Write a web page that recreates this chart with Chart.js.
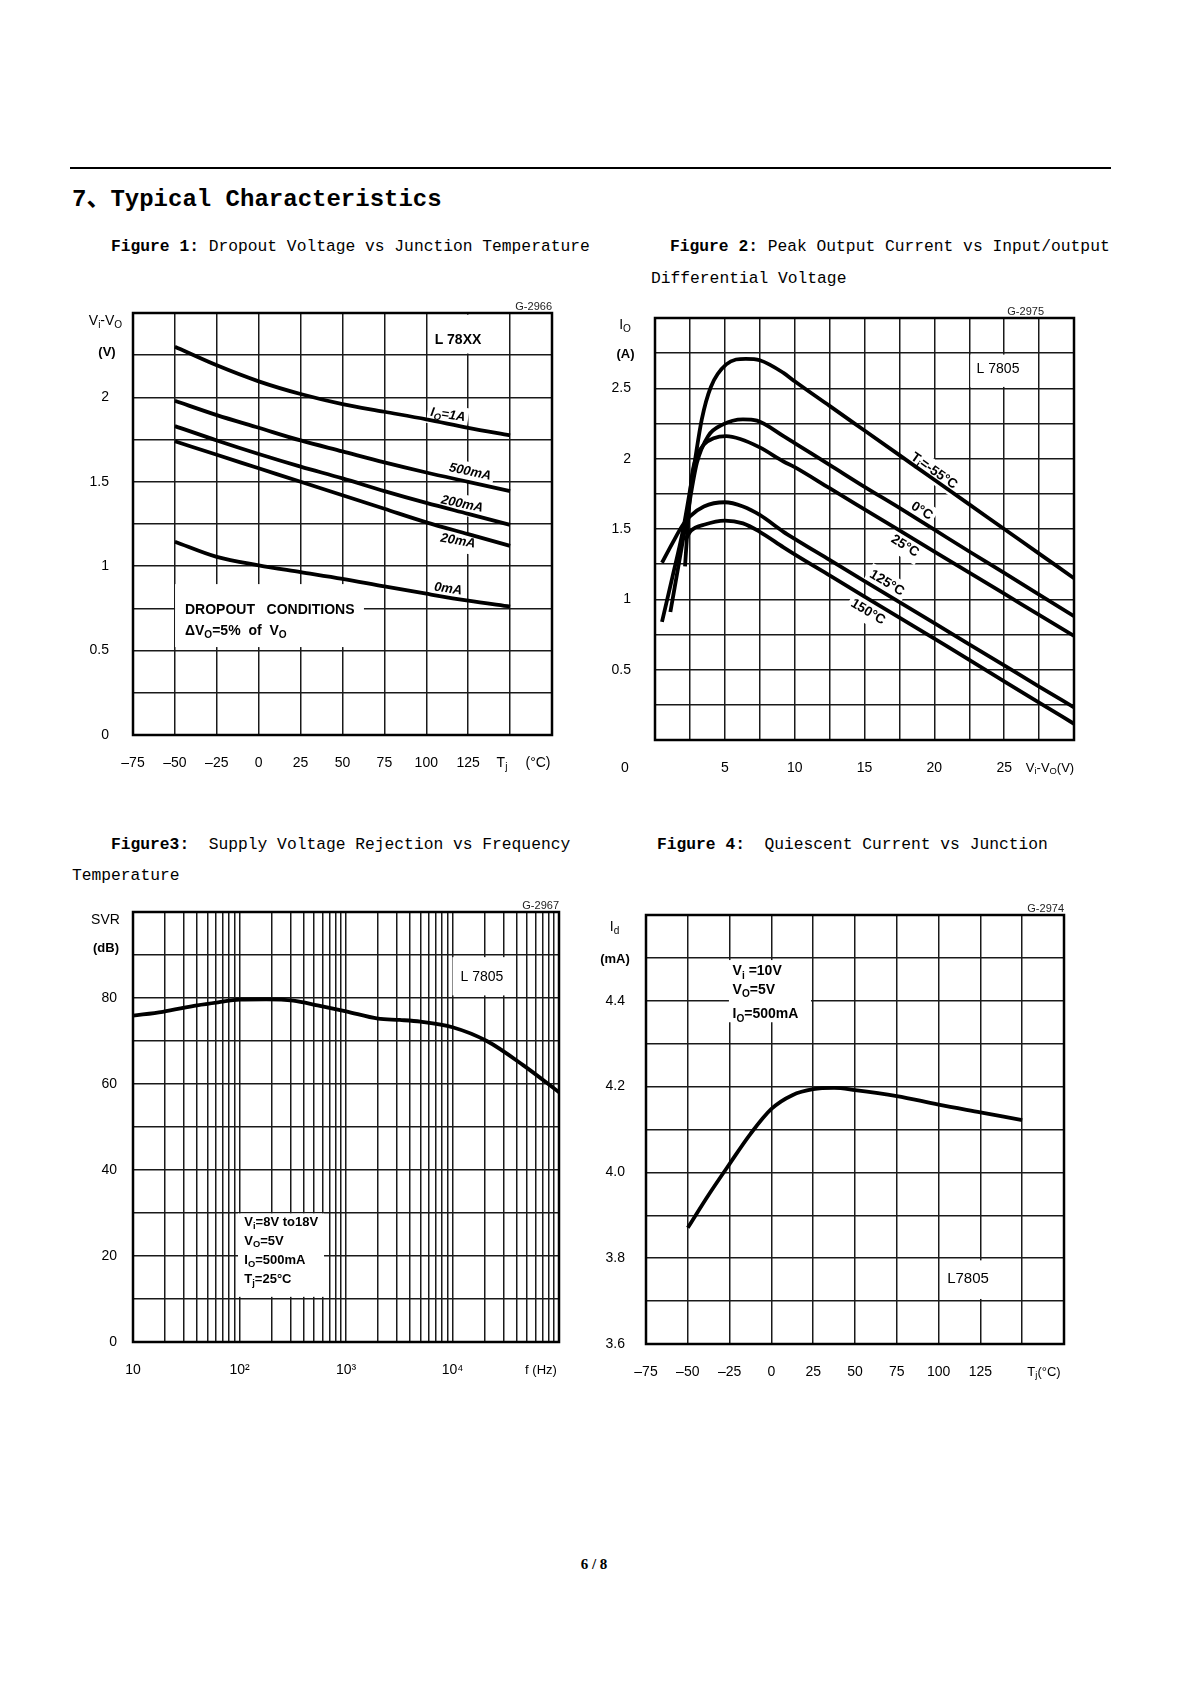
<!DOCTYPE html>
<html><head><meta charset="utf-8">
<script src="https://cdn.jsdelivr.net/npm/chart.js@4.4.1/dist/chart.umd.min.js"></script>
<style>
html,body{margin:0;padding:0;background:#fff;}
#page{position:relative;width:1200px;height:1697px;background:#fff;overflow:hidden;}
.t{position:absolute;white-space:pre;color:#000;font-family:"Liberation Mono","Noto Sans CJK SC",monospace;line-height:1;}
canvas{position:absolute;}
</style></head><body><div id="page">
<div style="position:absolute;left:70px;top:167px;width:1041px;height:2px;background:#000"></div>
<div class="t" style="left:72px;top:188px;font-size:24px;font-weight:bold">7、Typical Characteristics</div>
<div class="t" style="left:111px;top:239px;font-size:16.3px"><b>Figure 1:</b> Dropout Voltage vs Junction Temperature</div>
<div class="t" style="left:670px;top:239px;font-size:16.3px"><b>Figure 2:</b> Peak Output Current vs Input/output</div>
<div class="t" style="left:651px;top:271px;font-size:16.3px">Differential Voltage</div>
<div class="t" style="left:111px;top:837px;font-size:16.3px"><b>Figure3:</b>  Supply Voltage Rejection vs Frequency</div>
<div class="t" style="left:72px;top:868px;font-size:16.3px">Temperature</div>
<div class="t" style="left:657px;top:837px;font-size:16.3px"><b>Figure 4:</b>  Quiescent Current vs Junction</div>
<div class="t" style="left:550px;top:1557px;width:88px;text-align:center;font-size:15px;font-weight:bold;font-family:'Liberation Serif',serif">6 / 8</div>
</div>
<script>
// ---------------- DATA ----------------
// Figure 1: dropout voltage vs junction temperature
const tjTemps = [-50, -25, 0, 25, 50, 75, 100, 125, 150];
const drop1A  = [2.30, 2.19, 2.095, 2.02, 1.96, 1.915, 1.87, 1.82, 1.775];
const drop500 = [1.98, 1.895, 1.82, 1.745, 1.68, 1.615, 1.555, 1.50, 1.445];
const drop200 = [1.83, 1.745, 1.665, 1.59, 1.52, 1.445, 1.375, 1.31, 1.245];
const drop20  = [1.74, 1.66, 1.58, 1.50, 1.42, 1.34, 1.26, 1.19, 1.12];
const drop0   = [1.145, 1.055, 1.005, 0.965, 0.925, 0.88, 0.837, 0.796, 0.76];
const fig1YLabels = [0, 0.5, 1, 1.5, 2];
const tempXLabels = [-75, -50, -25, 0, 25, 50, 75, 100, 125];

// Figure 2: peak output current vs Vi-Vo
const vM55 = [0.5, 1.25, 2.0, 2.75, 3.35, 4.0, 5.1, 6.5, 7.5, 9.2, 10, 12.5, 15, 17.5, 20, 22.5, 25, 27.5, 30];
const iM55 = [0.84, 1.16, 1.49, 1.92, 2.28, 2.51, 2.67, 2.71, 2.70, 2.61, 2.55, 2.375, 2.20, 2.025, 1.85, 1.675, 1.50, 1.325, 1.15];
const v0C  = [1.1, 1.7, 2.3, 3.0, 3.8, 4.8, 6.3, 7.3, 9.2, 10, 12.5, 15, 17.5, 20, 22.5, 25, 27.5, 30];
const i0C  = [0.91, 1.25, 1.59, 1.97, 2.16, 2.24, 2.28, 2.27, 2.16, 2.11, 1.956, 1.80, 1.65, 1.495, 1.34, 1.188, 1.034, 0.88];
const v25C = [2.15, 2.4, 2.65, 3.0, 3.5, 4.2, 5.1, 6.1, 7.5, 9.2, 10, 12.5, 15, 17.5, 20, 22.5, 25, 27.5, 30];
const i25C = [1.235, 1.6, 1.88, 2.02, 2.10, 2.145, 2.16, 2.14, 2.08, 1.98, 1.94, 1.79, 1.64, 1.49, 1.34, 1.19, 1.04, 0.89, 0.74];
const v125C = [0.5, 1.25, 2.0, 2.5, 3.5, 5.0, 6.3, 7.5, 9.2, 10, 12.5, 15, 17.5, 20, 22.5, 25, 27.5, 30];
const i125C = [1.26, 1.40, 1.53, 1.59, 1.66, 1.69, 1.66, 1.60, 1.48, 1.43, 1.28, 1.13, 0.98, 0.83, 0.68, 0.53, 0.38, 0.232];
const v150C = [2.15, 2.6, 3.5, 5.0, 6.3, 7.5, 9.2, 10, 12.5, 15, 17.5, 20, 22.5, 25, 27.5, 30];
const i150C = [1.42, 1.49, 1.53, 1.56, 1.54, 1.48, 1.37, 1.32, 1.17, 1.02, 0.87, 0.72, 0.57, 0.416, 0.266, 0.115];
const fig2XLabels = [5, 10, 15, 20, 25];
const fig2YLabels = [0.5, 1, 1.5, 2, 2.5];

// Figure 3: SVR vs frequency
const svrFreq = [10, 19, 40, 63, 100, 178, 320, 540, 1000, 2000, 3200, 5000, 10000, 21000, 46000, 100000];
const svrDb   = [75.9, 76.8, 78.3, 79.0, 79.6, 79.7, 79.4, 78.3, 76.9, 75.2, 74.9, 74.5, 73.2, 70.0, 64.4, 58.1];
const svrDecades = [10, 100, 1000, 10000];
const svrXLabels = {10: '10', 100: '10²', 1000: '10³', 10000: '10⁴'};
const fig3YLabels = [0, 20, 40, 60, 80];

// Figure 4: quiescent current vs junction temperature
const iqTemp = [-50, -37.5, -25, -12.5, 0, 12.5, 25, 37.5, 50, 75, 100, 125, 150];
const iqMa   = [3.871, 3.948, 4.02, 4.09, 4.148, 4.18, 4.194, 4.197, 4.192, 4.178, 4.158, 4.14, 4.122];
const fig4YLabels = ['3.6', '3.8', '4.0', '4.2', '4.4'];

// ---------------- DRAW HELPERS ----------------
const FAM = '"Liberation Sans", Arial, Helvetica, sans-serif';
const ANN = {};
function fontStr(size, bold, italic) { return (italic ? 'italic ' : '') + (bold ? 'bold ' : '') + size + 'px ' + FAM; }
function richWidth(ctx, parts, size, bold, italic) {
  let w = 0;
  for (const [t, s] of parts) { ctx.font = fontStr(s ? size * 0.72 : size, bold, italic); w += ctx.measureText(t).width; }
  return w;
}
function drawRich(ctx, parts, x, y, size, bold, italic, align) {
  const w = richWidth(ctx, parts, size, bold, italic);
  let cx = align === 'left' ? x : align === 'right' ? x - w : x - w / 2;
  ctx.textAlign = 'left'; ctx.textBaseline = 'middle';
  for (const [t, s] of parts) {
    ctx.font = fontStr(s ? size * 0.72 : size, bold, italic);
    ctx.fillText(t, cx, y + (s ? size * 0.3 : 0));
    cx += ctx.measureText(t).width;
  }
}
const annotPlugin = {
  id: 'annot',
  beforeDatasetsDraw(chart) {
    const a = ANN[chart.canvas.id]; if (!a) return;
    const ctx = chart.ctx, xs = chart.scales.x, ys = chart.scales.y;
    ctx.save();
    (a.boxes || []).forEach(b => {
      const x0 = xs.getPixelForValue(b.x0), x1 = xs.getPixelForValue(b.x1);
      const y0 = ys.getPixelForValue(b.y0), y1 = ys.getPixelForValue(b.y1);
      ctx.fillStyle = '#fff';
      ctx.fillRect(Math.min(x0, x1), Math.min(y0, y1), Math.abs(x1 - x0), Math.abs(y1 - y0));
    });
    (a.labels || []).forEach(l => {
      const px = xs.getPixelForValue(l.x), py = ys.getPixelForValue(l.y);
      const size = l.size || 13;
      ctx.save(); ctx.translate(px, py); ctx.rotate((l.rot || 0) * Math.PI / 180);
      if (l.bg) {
        const w = richWidth(ctx, l.parts, size, l.bold, l.italic);
        const x0 = l.align === 'left' ? -3 : -w / 2 - 3;
        ctx.fillStyle = '#fff'; ctx.fillRect(x0, -size * 0.75, w + 6, size * 1.6);
      }
      ctx.fillStyle = '#000';
      drawRich(ctx, l.parts, 0, 0, size, l.bold, l.italic, l.align || 'center');
      ctx.restore();
    });
    ctx.restore();
  },
  afterDraw(chart) {
    const a = ANN[chart.canvas.id]; const ctx = chart.ctx; const ca = chart.chartArea;
    ctx.save();
    ctx.strokeStyle = '#000'; ctx.lineWidth = 2.5;
    ctx.strokeRect(ca.left, ca.top, ca.right - ca.left, ca.bottom - ca.top);
    ctx.fillStyle = '#000';
    (a.units || []).forEach(u => {
      const x = (u.from === 'right' ? ca.right : ca.left) + u.dx;
      const y = (u.vfrom === 'bottom' ? ca.bottom : ca.top) + u.dy;
      drawRich(ctx, u.parts, x, y, u.size || 14, u.bold, false, 'center');
    });
    if (a.gid) {
      ctx.font = fontStr(11, false, false); ctx.textAlign = 'right'; ctx.textBaseline = 'bottom'; ctx.fillStyle = '#222';
      ctx.fillText(a.gid.text, ca.right + a.gid.dx, ca.top - 1);
    }
    ctx.restore();
  }
};
const page = document.getElementById('page');
const GRID = {color: '#1a1a1a', lineWidth: 1.5, drawTicks: false};
const TICKFONT = {family: FAM, size: 14};
function ds(xs, ys) {
  return {data: xs.map((x, i) => ({x: x, y: ys[i]})), borderColor: '#000', borderWidth: 3.8, pointRadius: 0,
          cubicInterpolationMode: 'monotone', fill: false};
}
function makeChart(id, plot, xScale, yScale, datasets, ann) {
  const M = {l: 80, t: 40, r: 40, b: 50};
  const c = document.createElement('canvas'); c.id = id;
  const w = plot.r - plot.l + M.l + M.r, h = plot.b - plot.t + M.t + M.b;
  c.width = w; c.height = h;
  c.style.left = (plot.l - M.l) + 'px'; c.style.top = (plot.t - M.t) + 'px';
  c.style.width = w + 'px'; c.style.height = h + 'px';
  page.appendChild(c);
  ANN[id] = ann;
  xScale.afterFit = s => { s.height = M.b; };
  yScale.afterFit = s => { s.width = M.l; };
  xScale.grid = GRID; yScale.grid = GRID;
  xScale.border = {display: false}; yScale.border = {display: false};
  new Chart(c, {
    type: 'line', data: {datasets},
    options: {responsive: false, animation: false, events: [], devicePixelRatio: 1,
      layout: {padding: {top: M.t, right: M.r, left: 0, bottom: 0}},
      plugins: {legend: {display: false}, tooltip: {enabled: false}},
      scales: {x: xScale, y: yScale}},
    plugins: [annotPlugin]
  });
}
const near = (v, arr) => arr.some(a => Math.abs(a - v) < 1e-6);
const tempLabel = v => { const r = Math.round(v); return r < 0 ? '–' + Math.abs(r) : String(r); };

// ---------------- FIGURE 1 ----------------
makeChart('fig1', {l: 133, t: 313, r: 552, b: 735},
  {type: 'linear', min: -75, max: 175, ticks: {stepSize: 25, autoSkip: false, maxRotation: 0, padding: 20, font: TICKFONT, color: '#000',
    callback: v => near(v, tempXLabels) ? tempLabel(v) : ''}},
  {type: 'linear', min: 0, max: 2.5, ticks: {stepSize: 0.25, autoSkip: false, padding: 24, font: TICKFONT, color: '#000',
    callback: v => near(v, fig1YLabels) ? String(Math.round(v * 10) / 10) : ''}},
  [ds(tjTemps, drop1A), ds(tjTemps, drop500), ds(tjTemps, drop200), ds(tjTemps, drop20), ds(tjTemps, drop0)],
  {boxes: [{x0: 101, x1: 147.7, y0: 2.26, y1: 2.49}, {x0: -49.9, x1: 62.8, y0: 0.521, y1: 0.894}],
   labels: [
     {x: 118.9, y: 2.34, parts: [['L 78XX', 0]], size: 14, bold: true},
     {x: 112.9, y: 1.896, rot: 9, parts: [['I', 0], ['O', 1], ['=1A', 0]], size: 13, bold: true, italic: true, bg: true},
     {x: 126.1, y: 1.558, rot: 12, parts: [['500mA', 0]], size: 13, bold: true, italic: true, bg: true},
     {x: 121.3, y: 1.368, rot: 12, parts: [['200mA', 0]], size: 13, bold: true, italic: true, bg: true},
     {x: 118.9, y: 1.149, rot: 10, parts: [['20mA', 0]], size: 13, bold: true, italic: true, bg: true},
     {x: 113, y: 0.865, rot: 8, parts: [['0mA', 0]], size: 13, bold: true, italic: true, bg: true},
     {x: -44, y: 0.74, parts: [['DROPOUT   CONDITIONS', 0]], size: 14, bold: true, align: 'left'},
     {x: -44, y: 0.616, parts: [['ΔV', 0], ['O', 1], ['=5%  of  V', 0], ['O', 1]], size: 14, bold: true, align: 'left'}
   ],
   units: [
     {from: 'left', dx: -27.5, vfrom: 'top', dy: 8, parts: [['V', 0], ['i', 1], ['-V', 0], ['O', 1]], size: 14},
     {from: 'left', dx: -26, vfrom: 'top', dy: 39, parts: [['(V)', 0]], size: 13, bold: true},
     {from: 'right', dx: -50, vfrom: 'bottom', dy: 28, parts: [['T', 0], ['j', 1]]},
     {from: 'right', dx: -14, vfrom: 'bottom', dy: 28, parts: [['(°C)', 0]]}
   ],
   gid: {text: 'G-2966', dx: 0}});

// ---------------- FIGURE 2 ----------------
makeChart('fig2', {l: 655, t: 318, r: 1074, b: 740},
  {type: 'linear', min: 0, max: 30, ticks: {stepSize: 2.5, autoSkip: false, maxRotation: 0, padding: 20, font: TICKFONT, color: '#000',
    callback: v => near(v, fig2XLabels) ? String(Math.round(v)) : ''}},
  {type: 'linear', min: 0, max: 3, ticks: {stepSize: 0.25, autoSkip: false, padding: 24, font: TICKFONT, color: '#000',
    callback: v => near(v, fig2YLabels) ? String(Math.round(v * 10) / 10) : ''}},
  [ds(vM55, iM55), ds(v0C, i0C), ds(v25C, i25C), ds(v125C, i125C), ds(v150C, i150C)],
  {boxes: [{x0: 22.58, x1: 27.13, y0: 2.51, y1: 2.74}],
   labels: [
     {x: 24.56, y: 2.637, parts: [['L 7805', 0]], size: 14},
     {x: 19.98, y: 1.912, rot: 35, parts: [['T', 0], ['j', 1], ['=-55°C', 0]], size: 13.5, bold: true, bg: true},
     {x: 19.1, y: 1.628, rot: 32, parts: [['0°C', 0]], size: 13.5, bold: true, bg: true},
     {x: 17.9, y: 1.379, rot: 32, parts: [['25°C', 0]], size: 13.5, bold: true, bg: true},
     {x: 16.6, y: 1.116, rot: 31, parts: [['125°C', 0]], size: 13.5, bold: true, bg: true},
     {x: 15.25, y: 0.91, rot: 31, parts: [['150°C', 0]], size: 13.5, bold: true, bg: true}
   ],
   units: [
     {from: 'left', dx: -30, vfrom: 'top', dy: 7, parts: [['I', 0], ['O', 1]], size: 14},
     {from: 'left', dx: -29.5, vfrom: 'top', dy: 36, parts: [['(A)', 0]], size: 13, bold: true},
     {from: 'left', dx: -30, vfrom: 'bottom', dy: 28, parts: [['0', 0]]},
     {from: 'right', dx: -24, vfrom: 'bottom', dy: 28, parts: [['V', 0], ['i', 1], ['-V', 0], ['O', 1], ['(V)', 0]], size: 13}
   ],
   gid: {text: 'G-2975', dx: -30}});

// ---------------- FIGURE 3 ----------------
const svrGrid = [];
svrDecades.forEach(d => { for (let k = 1; k <= 9; k++) svrGrid.push(k * d); });
svrGrid.push(100000);
makeChart('fig3', {l: 133, t: 912, r: 559, b: 1342},
  {type: 'logarithmic', min: 10, max: 100000,
    afterBuildTicks: s => { s.ticks = svrGrid.map(v => ({value: v})); },
    ticks: {autoSkip: false, maxRotation: 0, padding: 20, font: TICKFONT, color: '#000',
    callback: v => svrXLabels[Math.round(v)] || ''}},
  {type: 'linear', min: 0, max: 100, ticks: {stepSize: 10, autoSkip: false, padding: 16, font: TICKFONT, color: '#000',
    callback: v => near(v, fig3YLabels) ? String(Math.round(v)) : ''}},
  [ds(svrFreq, svrDb)],
  {boxes: [{x0: 10000, x1: 34700, y0: 80.6, y1: 89.5}, {x0: 96.8, x1: 622, y0: 10.5, y1: 29.9}],
   labels: [
     {x: 18900, y: 84.9, parts: [['L 7805', 0]], size: 14},
     {x: 111, y: 27.8, parts: [['V', 0], ['i', 1], ['=8V to18V', 0]], size: 13, bold: true, align: 'left'},
     {x: 111, y: 23.5, parts: [['V', 0], ['O', 1], ['=5V', 0]], size: 13, bold: true, align: 'left'},
     {x: 111, y: 19.0, parts: [['I', 0], ['O', 1], ['=500mA', 0]], size: 13, bold: true, align: 'left'},
     {x: 111, y: 14.6, parts: [['T', 0], ['j', 1], ['=25°C', 0]], size: 13, bold: true, align: 'left'}
   ],
   units: [
     {from: 'left', dx: -27.5, vfrom: 'top', dy: 8, parts: [['SVR', 0]], size: 14},
     {from: 'left', dx: -27, vfrom: 'top', dy: 36, parts: [['(dB)', 0]], size: 13, bold: true},
     {from: 'right', dx: -18, vfrom: 'bottom', dy: 28, parts: [['f (Hz)', 0]], size: 13}
   ],
   gid: {text: 'G-2967', dx: 0}});

// ---------------- FIGURE 4 ----------------
makeChart('fig4', {l: 646, t: 915, r: 1064, b: 1344},
  {type: 'linear', min: -75, max: 175, ticks: {stepSize: 25, autoSkip: false, maxRotation: 0, padding: 20, font: TICKFONT, color: '#000',
    callback: v => near(v, tempXLabels) ? tempLabel(v) : ''}},
  {type: 'linear', min: 3.6, max: 4.6, ticks: {stepSize: 0.1, autoSkip: false, padding: 21, font: TICKFONT, color: '#000',
    callback: v => { const s = (Math.round(v * 10) / 10).toFixed(1); return fig4YLabels.includes(s) ? s : ''; }}},
  [ds(iqTemp, iqMa)],
  {boxes: [{x0: -25.4, x1: 23.7, y0: 4.35, y1: 4.495}, {x0: 102, x1: 134, y0: 3.705, y1: 3.795}],
   labels: [
     {x: -23.2, y: 4.468, parts: [['V', 0], ['i', 1], [' =10V', 0]], size: 14, bold: true, align: 'left'},
     {x: -23.2, y: 4.424, parts: [['V', 0], ['O', 1], ['=5V', 0]], size: 14, bold: true, align: 'left'},
     {x: -23.2, y: 4.368, parts: [['I', 0], ['O', 1], ['=500mA', 0]], size: 14, bold: true, align: 'left'},
     {x: 117.6, y: 3.752, parts: [['L7805', 0]], size: 15}
   ],
   units: [
     {from: 'left', dx: -31.5, vfrom: 'top', dy: 12, parts: [['I', 0], ['d', 1]], size: 14},
     {from: 'left', dx: -31, vfrom: 'top', dy: 44, parts: [['(mA)', 0]], size: 13, bold: true},
     {from: 'right', dx: -20, vfrom: 'bottom', dy: 28, parts: [['T', 0], ['j', 1], ['(°C)', 0]], size: 13}
   ],
   gid: {text: 'G-2974', dx: 0}});
</script>
</body></html>
